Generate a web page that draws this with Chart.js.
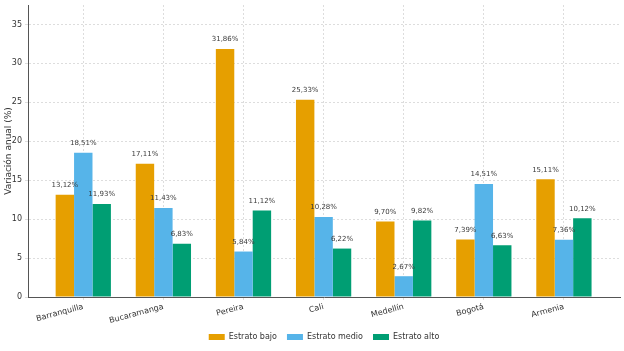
<!DOCTYPE html>
<html>
<head>
<meta charset="utf-8">
<script src="https://cdn.jsdelivr.net/npm/chart.js@4.4.0/dist/chart.umd.min.js"></script>
<style>
  html, body { margin: 0; padding: 0; background: #fff; }
  #wrap { width: 624px; height: 351px; }
</style>
</head>
<body>
<div id="wrap"><canvas id="chart" width="624" height="351"></canvas></div>
<script>
var ciudades = ["Barranquilla", "Bucaramanga", "Pereira", "Cali", "Medellín", "Bogotá", "Armenia"];
var bajo = [13.12, 17.11, 31.86, 25.33, 9.70, 7.39, 15.11];
var medio = [18.51, 11.43, 5.84, 10.28, 2.67, 14.51, 7.36];
var alto = [11.93, 6.83, 11.12, 6.22, 9.82, 6.63, 10.12];
var yTicks = [0, 5, 10, 15, 20, 25, 30, 35];

Chart.defaults.font.family = "'DejaVu Sans', sans-serif";
Chart.defaults.color = "#333";

function puntos(serie) {
  return serie.map(function (v, i) { return { x: i, y: v }; });
}

// etiquetas encima de cada barra
var etiquetas = {
  id: "etiquetas",
  afterDatasetsDraw: function (chart) {
    var ctx = chart.ctx;
    ctx.save();
    ctx.font = "7px 'DejaVu Sans', sans-serif";
    ctx.fillStyle = "#3a3a3a";
    ctx.textAlign = "center";
    ctx.textBaseline = "bottom";
    chart.data.datasets.forEach(function (ds, i) {
      chart.getDatasetMeta(i).data.forEach(function (bar, j) {
        var txt = ds.data[j].y.toFixed(2).replace(".", ",") + "%";
        ctx.fillText(txt, bar.x, bar.y - 6);
      });
    });
    ctx.restore();
  }
};

var chart = new Chart("chart", {
  type: "bar",
  data: {
    datasets: [
      { label: "Estrato bajo", data: puntos(bajo), backgroundColor: "#E69F00" },
      { label: "Estrato medio", data: puntos(medio), backgroundColor: "#56B4E9" },
      { label: "Estrato alto", data: puntos(alto), backgroundColor: "#009E73" }
    ]
  },
  options: {
    responsive: false,
    animation: false,
    layout: { padding: { top: 5, right: 4, left: 0, bottom: 0 } },
    datasets: { bar: { categoryPercentage: 0.69, barPercentage: 1, grouped: true } },
    plugins: {
      tooltip: { enabled: false },
      legend: {
        position: "bottom",
        fullSize: false,
        labels: { boxWidth: 16, boxHeight: 6, padding: 10, font: { size: 8 }, color: "#333" }
      }
    },
    scales: {
      x: {
        type: "linear",
        min: -0.69,
        max: 6.7,
        offset: false,
        grid: { offset: false, color: "#ddd", tickLength: 3 },
        border: { color: "#555", dash: [2, 2] },
        ticks: {
          font: { size: 8 }, minRotation: 15, maxRotation: 15, color: "#333", padding: 2,
          callback: function (v) { return ciudades[v]; }
        },
        afterBuildTicks: function (s) {
          s.ticks = ciudades.map(function (c, i) { return { value: i }; });
        },
        afterFit: function (s) { s.height = 26; s.paddingLeft = 0; s.paddingRight = 0; }
      },
      y: {
        min: 0,
        max: 37.5,
        title: { display: true, text: "Variación anual (%)", font: { size: 9 }, color: "#333", padding: 3 },
        grid: { color: "#ddd", tickLength: 3 },
        border: { color: "#555", dash: [2, 2] },
        ticks: { font: { size: 8 }, color: "#333", padding: 3 },
        afterBuildTicks: function (s) {
          s.ticks = yTicks.map(function (v) { return { value: v }; });
        },
        afterFit: function (s) { s.width = 28; s.paddingTop = 0; s.paddingBottom = 0; }
      }
    }
  },
  plugins: [etiquetas]
});
</script>
</body>
</html>
